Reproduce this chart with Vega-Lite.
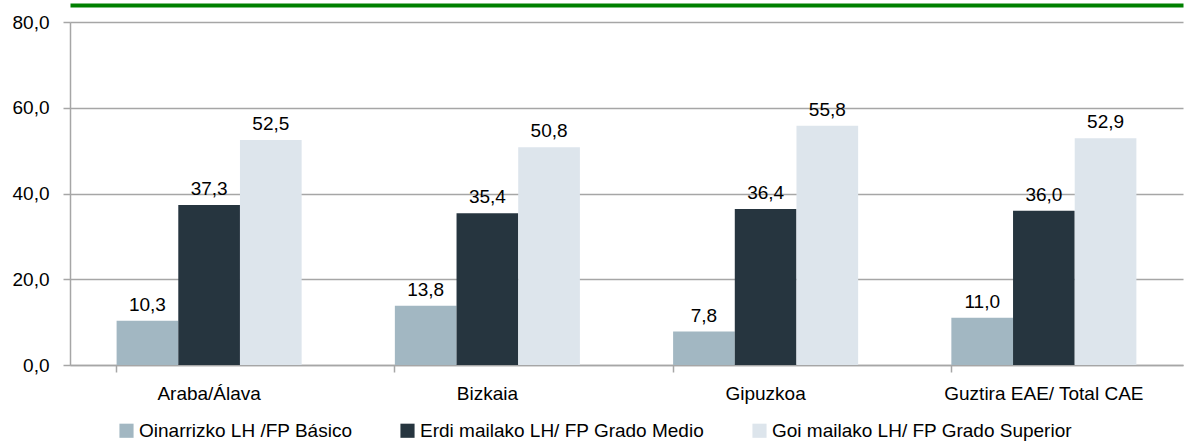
{
  "$schema": "https://vega.github.io/schema/vega-lite/v6.json",
  "width": 1113,
  "height": 343,
  "autosize": {"type": "none"},
  "padding": {"left": 70, "top": 22, "right": 6, "bottom": 81},
  "config": {
    "font": "Liberation Sans",
    "view": {"stroke": null},
    "locale": {"number": {"decimal": ",", "thousands": ".", "grouping": [3], "currency": ["", " €"]}}
  },
  "data": {
    "values": [
      {"region": "Araba/Álava", "level": "Oinarrizko LH /FP Básico", "value": 10.3},
      {"region": "Araba/Álava", "level": "Erdi mailako LH/ FP Grado Medio", "value": 37.3},
      {"region": "Araba/Álava", "level": "Goi mailako LH/ FP Grado Superior", "value": 52.5},
      {"region": "Bizkaia", "level": "Oinarrizko LH /FP Básico", "value": 13.8},
      {"region": "Bizkaia", "level": "Erdi mailako LH/ FP Grado Medio", "value": 35.4},
      {"region": "Bizkaia", "level": "Goi mailako LH/ FP Grado Superior", "value": 50.8},
      {"region": "Gipuzkoa", "level": "Oinarrizko LH /FP Básico", "value": 7.8},
      {"region": "Gipuzkoa", "level": "Erdi mailako LH/ FP Grado Medio", "value": 36.4},
      {"region": "Gipuzkoa", "level": "Goi mailako LH/ FP Grado Superior", "value": 55.8},
      {"region": "Guztira EAE/ Total CAE", "level": "Oinarrizko LH /FP Básico", "value": 11.0},
      {"region": "Guztira EAE/ Total CAE", "level": "Erdi mailako LH/ FP Grado Medio", "value": 36.0},
      {"region": "Guztira EAE/ Total CAE", "level": "Goi mailako LH/ FP Grado Superior", "value": 52.9}
    ]
  },
  "encoding": {
    "xOffset": {
      "field": "level",
      "type": "nominal",
      "sort": ["Oinarrizko LH /FP Básico", "Erdi mailako LH/ FP Grado Medio", "Goi mailako LH/ FP Grado Superior"]
    },
    "y": {
      "field": "value",
      "type": "quantitative",
      "scale": {"domain": [0, 80], "nice": false},
      "axis": {
        "title": null,
        "values": [0, 20, 40, 60, 80],
        "format": ".1f",
        "labelFontSize": 19,
        "labelColor": "#000000",
        "labelPadding": 14,
        "grid": true,
        "gridColor": "#a6a6a6",
        "gridWidth": 1.5,
        "domainColor": "#a6a6a6",
        "domainWidth": 1.5,
        "tickColor": "#a6a6a6",
        "tickWidth": 1.5,
        "tickSize": 7
      }
    }
  },
  "layer": [
    {
      "mark": {"type": "bar"},
      "encoding": {
        "x": {
          "field": "region",
          "type": "nominal",
          "sort": null,
          "scale": {"paddingInner": 0.335, "paddingOuter": 0.1675},
          "axis": {
            "title": null,
            "labelAngle": 0,
            "labelFontSize": 19,
            "labelColor": "#000000",
            "labelPadding": 12,
            "labelLimit": 400,
            "domainColor": "#a6a6a6",
            "domainWidth": 1.5,
            "tickColor": "#a6a6a6",
            "tickWidth": 1.5,
            "tickSize": 7,
            "bandPosition": 0
          }
        },
        "color": {
          "field": "level",
          "type": "nominal",
          "sort": ["Oinarrizko LH /FP Básico", "Erdi mailako LH/ FP Grado Medio", "Goi mailako LH/ FP Grado Superior"],
          "scale": {"range": ["#a2b7c2", "#26353f", "#dde5ec"]},
          "legend": {
            "title": null,
            "orient": "none",
            "legendX": 47,
            "legendY": 399,
            "direction": "horizontal",
            "symbolType": "square",
            "symbolSize": 200,
            "symbolStrokeWidth": 0,
            "labelFontSize": 19,
            "labelColor": "#000000",
            "labelLimit": 500,
            "labelOffset": 3,
            "columnPadding": 45
          }
        }
      }
    },
    {
      "mark": {"type": "text", "baseline": "bottom", "dy": -6, "fontSize": 19, "color": "#000000"},
      "encoding": {
        "x": {
          "field": "region",
          "type": "nominal",
          "sort": null,
          "scale": {"paddingInner": 0.335, "paddingOuter": 0.1675},
          "axis": null
        },
        "text": {"field": "value", "type": "quantitative", "format": ".1f"}
      }
    },
    {
      "mark": {"type": "rule", "opacity": 0},
      "encoding": {
        "x": {
          "field": "region",
          "type": "nominal",
          "sort": null,
          "scale": {"paddingInner": 0.335, "paddingOuter": 0.1675},
          "axis": {
            "orient": "top",
            "title": null,
            "labels": false,
            "ticks": false,
            "grid": false,
            "domainColor": "#008000",
            "domainWidth": 4,
            "offset": 17
          }
        }
      }
    }
  ],
  "resolve": {"axis": {"x": "independent"}}
}
